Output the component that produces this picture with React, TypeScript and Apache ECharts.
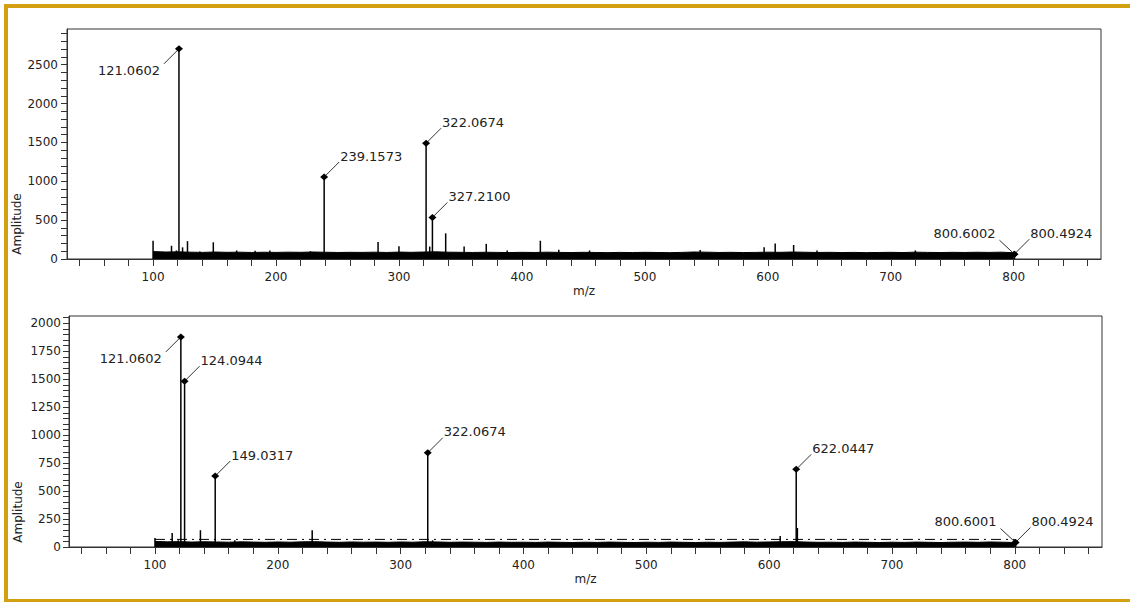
import React, { useEffect, useRef } from "react";
import * as echarts from "echarts";

// ---------- DATA ----------
// Top spectrum: labelled peaks [m/z, amplitude]
const topPeaks: [number, number][] = [
  [121.0602, 2705],
  [239.1573, 1055],
  [322.0674, 1490],
  [327.21, 535],
  [800.4924, 62],
  [800.6002, 62],
];
// Top spectrum: small unlabelled spikes
const topSpikes: [number, number][] = [
  [100, 235], [115, 170], [119, 110], [124, 150], [128, 230], [138, 95],
  [149, 215], [168, 110], [183, 105], [195, 110], [228, 100], [283, 220],
  [300, 165], [325, 160], [338, 330], [353, 160], [371, 195], [388, 110],
  [415, 235], [430, 120], [455, 110], [545, 115], [597, 150], [606, 200],
  [621, 180], [640, 110], [720, 110],
];
// Top spectrum: dense baseline noise envelope
const topNoise: [number, number][] = [
  [100, 95], [110, 90], [120, 92], [130, 88], [140, 85], [150, 90], [160, 86], [170, 88],
  [180, 84], [190, 87], [200, 85], [210, 88], [220, 86], [230, 90], [240, 87], [250, 84],
  [260, 86], [270, 85], [280, 88], [290, 84], [300, 89], [310, 86], [320, 90], [330, 92],
  [340, 88], [350, 86], [360, 84], [370, 87], [380, 85], [390, 83], [400, 86], [410, 84],
  [420, 88], [430, 85], [440, 83], [450, 86], [460, 84], [470, 82], [480, 85], [490, 83],
  [500, 86], [510, 84], [520, 82], [530, 85], [540, 90], [550, 88], [560, 84], [570, 86],
  [580, 83], [590, 85], [600, 88], [610, 86], [620, 90], [630, 87], [640, 84], [650, 86],
  [660, 83], [670, 85], [680, 82], [690, 84], [700, 86], [710, 83], [720, 88], [730, 85],
  [740, 83], [750, 86], [760, 84], [770, 87], [780, 85], [790, 88], [800, 80],
];

// Bottom spectrum: labelled peaks
const bottomPeaks: [number, number][] = [
  [121.0602, 1878],
  [124.0944, 1482],
  [149.0317, 634],
  [322.0674, 842],
  [622.0447, 694],
  [800.4924, 40],
  [800.6001, 40],
];
// Bottom spectrum: small unlabelled spikes
const bottomSpikes: [number, number][] = [
  [100, 80], [114, 125], [119, 60], [137, 150], [165, 60], [228, 150],
  [326, 60], [609, 98], [623, 170],
];
// Bottom spectrum: baseline noise envelope
const bottomNoise: [number, number][] = [
  [100, 50], [110, 46], [120, 48], [130, 44], [140, 47], [150, 45], [160, 43], [170, 46],
  [180, 44], [190, 42], [200, 45], [210, 43], [220, 46], [230, 48], [240, 44], [250, 42],
  [260, 45], [270, 43], [280, 44], [290, 42], [300, 45], [310, 43], [320, 47], [330, 45],
  [340, 42], [350, 44], [360, 43], [370, 41], [380, 44], [390, 42], [400, 43], [410, 41],
  [420, 44], [430, 42], [440, 40], [450, 43], [460, 41], [470, 44], [480, 42], [490, 40],
  [500, 43], [510, 41], [520, 44], [530, 42], [540, 40], [550, 43], [560, 41], [570, 44],
  [580, 46], [590, 43], [600, 45], [610, 47], [620, 48], [630, 44], [640, 42], [650, 43],
  [660, 41], [670, 44], [680, 42], [690, 40], [700, 43], [710, 41], [720, 44], [730, 42],
  [740, 40], [750, 43], [760, 44], [770, 42], [780, 45], [790, 43], [800, 40],
];
// Bottom spectrum: secondary dash-dot trace
const bottomTrace: [number, number][] = [
  [100, 68], [800, 68],
];

// Axis tick values
const xLabelValues = [100, 200, 300, 400, 500, 600, 700, 800];
const topYLabelValues = [0, 500, 1000, 1500, 2000, 2500];
const bottomYLabelValues = [0, 250, 500, 750, 1000, 1250, 1500, 1750, 2000];

// Label placement for annotated peaks: ur = up-right, dl = down-left, ul = up-left
const topPlacement = ["dl", "ur", "ur", "ur", "ur", "ul"];
const bottomPlacement = ["dl", "ur", "ur", "ur", "ur", "ur", "ul"];

// ---------- STYLE ----------
const FONT = '"DejaVu Sans", Verdana, sans-serif';
const TEXT = "#222";
const AXIS = "#333";
const GOLD = "#D3A012";

function range(start: number, end: number, step: number): number[] {
  const out: number[] = [];
  for (let v = start; v <= end + 1e-9; v += step) out.push(v);
  return out;
}

function makeAnnot(placement: string[]) {
  return (params: any, api: any) => {
    const mz = api.value(0);
    const amp = api.value(1);
    const p = api.coord([mz, amp]);
    const place = placement[params.dataIndex];
    const label = Number(mz).toFixed(4);
    let lx = 15, ly = -15, tx = 16, ty = -21, align = "left";
    if (place === "dl") { lx = -15; ly = 15; tx = -19; ty = 22; align = "right"; }
    if (place === "ul") { lx = -15; ly = -14; tx = -19; ty = -21; align = "right"; }
    return {
      type: "group",
      children: [
        {
          type: "line",
          shape: { x1: p[0], y1: p[1], x2: p[0] + lx, y2: p[1] + ly },
          style: { stroke: "#333", lineWidth: 1 },
        },
        {
          type: "polygon",
          shape: {
            points: [
              [p[0], p[1] - 3.5],
              [p[0] + 4, p[1]],
              [p[0], p[1] + 3.5],
              [p[0] - 4, p[1]],
            ],
          },
          style: { fill: "#000" },
        },
        {
          type: "text",
          x: p[0] + tx,
          y: p[1] + ty,
          style: {
            text: label,
            fill: TEXT,
            font: `13px ${FONT}`,
            align,
            verticalAlign: "middle",
          },
        },
      ],
    };
  };
}

const plainNumber = (v: number) => String(v);

function xAxisFor(gridIndex: number) {
  return {
    type: "value",
    gridIndex,
    min: 30,
    max: 871,
    name: "m/z",
    nameLocation: "middle",
    nameGap: 26,
    nameTextStyle: { fontFamily: FONT, fontSize: 12, color: TEXT },
    axisLine: { show: true, onZero: false, lineStyle: { color: AXIS, width: 1 } },
    axisTick: { show: true, length: 7, customValues: range(40, 860, 20), lineStyle: { color: AXIS } },
    axisLabel: { customValues: xLabelValues, formatter: plainNumber, margin: 12, fontFamily: FONT, fontSize: 12, color: TEXT },
    splitLine: { show: false },
  };
}

function yAxisFor(gridIndex: number, max: number, tickStep: number, labels: number[], margin: number) {
  return {
    type: "value",
    gridIndex,
    min: 0,
    max,
    axisLine: { show: true, lineStyle: { color: AXIS, width: 1 } },
    axisTick: { show: true, length: 6, customValues: range(0, max - 1, tickStep), lineStyle: { color: AXIS } },
    axisLabel: { customValues: labels, formatter: plainNumber, margin, fontFamily: FONT, fontSize: 12, color: TEXT },
    splitLine: { show: false },
  };
}

export default function App() {
  const ref = useRef<HTMLDivElement>(null);

  useEffect(() => {
    document.body.style.margin = "0";
    if (!ref.current) return;
    const chart = echarts.init(ref.current, null, { renderer: "svg" });

    const option: any = {
      animation: false,
      backgroundColor: "#fff",
      grid: [
        { left: 67, top: 29, width: 1034, height: 230, show: true, borderColor: AXIS, borderWidth: 1, backgroundColor: "transparent" },
        { left: 69, top: 316, width: 1033, height: 231, show: true, borderColor: AXIS, borderWidth: 1, backgroundColor: "transparent" },
      ],
      xAxis: [xAxisFor(0), xAxisFor(1)],
      yAxis: [
        yAxisFor(0, 2960, 100, topYLabelValues, 9),
        yAxisFor(1, 2065, 50, bottomYLabelValues, 8),
      ],
      series: [
        {
          type: "line",
          xAxisIndex: 0, yAxisIndex: 0,
          data: topNoise,
          symbol: "none",
          lineStyle: { color: "#000", width: 1 },
          areaStyle: { color: "#000", opacity: 1 },
          z: 1,
        },
        {
          type: "bar",
          xAxisIndex: 0, yAxisIndex: 0,
          data: [...topPeaks, ...topSpikes],
          barWidth: 1.5,
          itemStyle: { color: "#000" },
          z: 2,
        },
        {
          type: "custom",
          xAxisIndex: 0, yAxisIndex: 0,
          data: topPeaks,
          renderItem: makeAnnot(topPlacement),
          clip: false,
          z: 5,
        },
        {
          type: "line",
          xAxisIndex: 1, yAxisIndex: 1,
          data: bottomNoise,
          symbol: "none",
          lineStyle: { color: "#000", width: 1 },
          areaStyle: { color: "#000", opacity: 1 },
          z: 1,
        },
        {
          type: "line",
          xAxisIndex: 1, yAxisIndex: 1,
          data: bottomTrace,
          symbol: "none",
          lineStyle: { color: "#000", width: 1, type: [10, 5, 2, 5] },
          z: 1,
        },
        {
          type: "bar",
          xAxisIndex: 1, yAxisIndex: 1,
          data: [...bottomPeaks, ...bottomSpikes],
          barWidth: 1.5,
          itemStyle: { color: "#000" },
          z: 2,
        },
        {
          type: "custom",
          xAxisIndex: 1, yAxisIndex: 1,
          data: bottomPeaks,
          renderItem: makeAnnot(bottomPlacement),
          clip: false,
          z: 5,
        },
      ],
      graphic: [
        { type: "rect", shape: { x: 4, y: 4, width: 1126, height: 4 }, style: { fill: GOLD }, silent: true },
        { type: "rect", shape: { x: 4, y: 4, width: 4, height: 598 }, style: { fill: GOLD }, silent: true },
        { type: "rect", shape: { x: 4, y: 599, width: 1126, height: 3 }, style: { fill: GOLD }, silent: true },
        {
          type: "text", x: 17, y: 224, rotation: Math.PI / 2,
          style: { text: "Amplitude", fill: TEXT, font: `12px ${FONT}`, align: "center", verticalAlign: "middle" },
        },
        {
          type: "text", x: 18, y: 512, rotation: Math.PI / 2,
          style: { text: "Amplitude", fill: TEXT, font: `12px ${FONT}`, align: "center", verticalAlign: "middle" },
        },
      ],
    };

    chart.setOption(option);
    return () => chart.dispose();
  }, []);

  return <div ref={ref} style={{ width: 1130, height: 602 }} />;
}
